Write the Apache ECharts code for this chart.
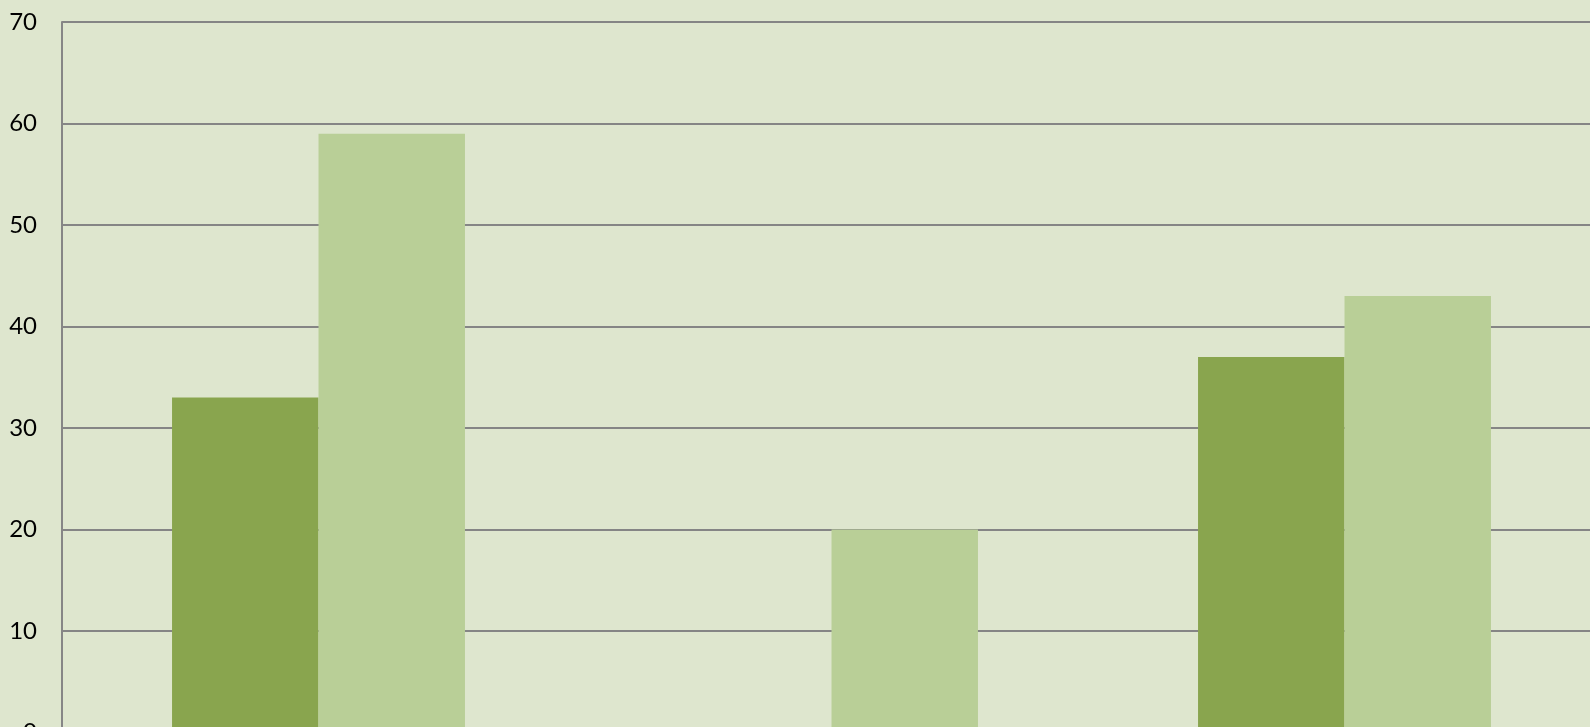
<!DOCTYPE html>
<html>
<head>
<meta charset="utf-8">
<script src="https://cdn.jsdelivr.net/npm/echarts@6/dist/echarts.min.js"></script>
<style>
html,body{margin:0;padding:0;background:#DEE6CE;}
#chart{width:1590px;height:727px;}
</style>
</head>
<body>
<div id="chart"></div>
<script>
const categories = ['A', 'B', 'C'];
const seriesDark = [33, null, 37];
const seriesLight = [59, 20, 43];
const yTicks = [0, 10, 20, 30, 40, 50, 60, 70];

const chart = echarts.init(document.getElementById('chart'));
chart.setOption({
  backgroundColor: '#DEE6CE',
  animation: false,
  grid: { left: 62, top: 22, width: 1539, height: 710.5, containLabel: false, outerBoundsMode: 'none' },
  xAxis: {
    type: 'category',
    data: categories,
    axisLine: { show: false },
    axisTick: { show: false },
    axisLabel: { show: false }
  },
  yAxis: {
    type: 'value',
    min: yTicks[0],
    max: yTicks[yTicks.length - 1],
    interval: 10,
    axisLine: { show: true, lineStyle: { color: '#868686', width: 2 } },
    axisTick: { show: false },
    axisLabel: { color: '#000', fontSize: 24, fontFamily: 'Lato, "Open Sans", sans-serif', margin: 25 },
    splitLine: { show: true, lineStyle: { color: '#858585', width: 2 } }
  },
  series: [
    { type: 'bar', data: seriesDark, itemStyle: { color: '#89A54E' }, barGap: '0%', barCategoryGap: '42.9%' },
    { type: 'bar', data: seriesLight, itemStyle: { color: '#B9CF97' }, barGap: '0%', barCategoryGap: '42.9%' }
  ]
});
</script>
</body>
</html>
